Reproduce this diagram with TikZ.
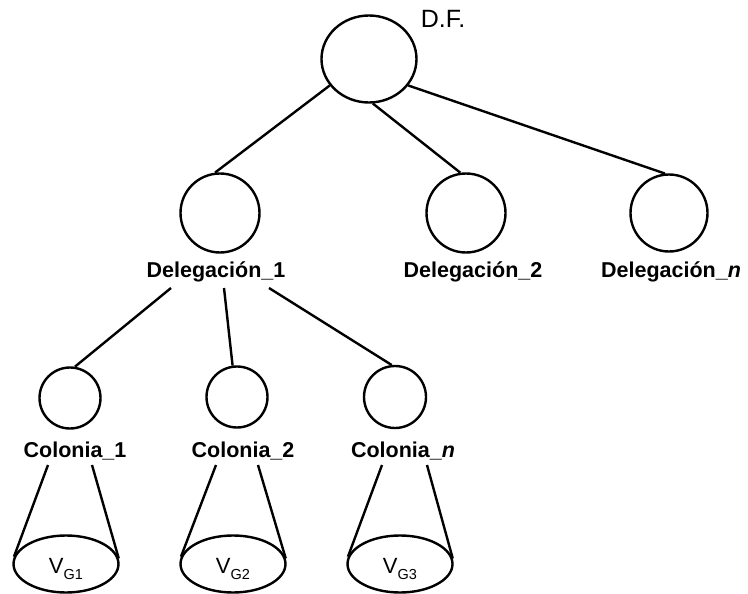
\documentclass[tikz,border=0pt]{standalone}
\usepackage{fontspec}
\setmainfont{Liberation Sans}
\usetikzlibrary{shapes.geometric}
\begin{document}
\begin{tikzpicture}[x=1pt,y=-1pt,line width=2.4pt,
  circ/.style={draw, circle, inner sep=0pt, minimum size=#1},
  oval/.style={draw, ellipse, inner sep=0pt, minimum width=105pt, minimum height=57pt},
  lbl/.style={font=\fontsize{21.5}{25}\selectfont\bfseries, anchor=base, inner sep=0pt},
  vtxt/.style={font=\fontsize{22}{25}\selectfont, anchor=base, inner sep=0pt},
]
\useasboundingbox (0,0) rectangle (748,594);

% root: Distrito Federal
\node[draw, ellipse, inner sep=0pt, minimum width=95pt, minimum height=87pt] (df) at (369,59) {};
\node[font=\fontsize{25}{29}\selectfont, anchor=base, inner sep=0pt] (dft) at (443,28) {D.F.};

% delegaciones
\node[circ=79pt] (d1) at (220,213) {};
\node[circ=79pt] (d2) at (466,213) {};
\node[circ=77pt] (dn) at (669,213) {};
\node[lbl] (d1t) at (216,277) {Delegación\_1};
\node[lbl] (d2t) at (473,277) {Delegación\_2};
\node[lbl] (dnt) at (671,277) {Delegación\_\textit{n}};

% colonias
\node[circ=61pt] (c1) at (70,398) {};
\node[circ=61pt] (c2) at (237,397) {};
\node[circ=62pt] (cn) at (395,397) {};
\node[lbl] (c1t) at (75,457) {Colonia\_1};
\node[lbl] (c2t) at (243,457) {Colonia\_2};
\node[lbl] (cnt) at (403,457) {Colonia\_\textit{n}};

% bases of the cones
\node[oval] (v1) at (66,564) {};
\node[oval] (v2) at (233,564) {};
\node[oval] (v3) at (400,564) {};
\node[vtxt] (v1t) at (66,573) {V\raisebox{-6pt}{\fontsize{14.5}{15}\selectfont G1}};
\node[vtxt] (v2t) at (233,573) {V\raisebox{-6pt}{\fontsize{14.5}{15}\selectfont G2}};
\node[vtxt] (v3t) at (400,573) {V\raisebox{-6pt}{\fontsize{14.5}{15}\selectfont G3}};

% tree edges
\draw (df.214) -- (d1.97);
\draw (df.275) -- (d2.98);
\draw (df.326) -- (dn.96);

\coordinate (d1a) at (171,288);
\coordinate (d1b) at (224,288);
\coordinate (d1c) at (269,288);
\draw (d1a) -- (c1.81);
\draw (d1b) -- (c2.98);
\draw (d1c) -- (cn.96);

% cone sides
\coordinate (c1l) at (48,465);  \coordinate (c1r) at (92,465);
\coordinate (c2l) at (216,465); \coordinate (c2r) at (258,465);
\coordinate (cnl) at (382,465); \coordinate (cnr) at (427,465);
\draw (c1l) -- (v1.172); \draw (c1r) -- (v1.6);
\draw (c2l) -- (v2.172); \draw (c2r) -- (v2.6);
\draw (cnl) -- (v3.172); \draw (cnr) -- (v3.6);
\end{tikzpicture}
\end{document}
